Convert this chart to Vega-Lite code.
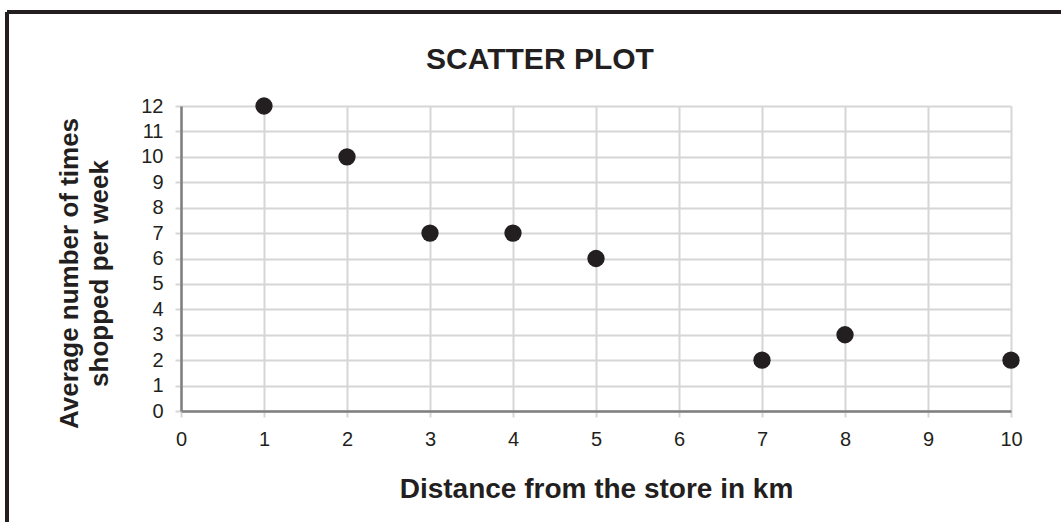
{
  "$schema": "https://vega.github.io/schema/vega-lite/v6.json",
  "autosize": {"type": "none"},
  "padding": {"left": 181, "top": 106, "right": 50, "bottom": 111},
  "width": 830,
  "height": 305,
  "background": "white",
  "title": {
    "text": "SCATTER PLOT",
    "font": "Liberation Sans",
    "fontSize": 30,
    "fontWeight": "bold",
    "color": "#231f20",
    "anchor": "middle",
    "dx": -56,
    "offset": -65
  },
  "config": {
    "view": {"stroke": null},
    "axis": {
      "labelFont": "Liberation Sans",
      "labelFontSize": 20,
      "labelColor": "#231f20",
      "labelOverlap": false,
      "labelFlush": false,
      "titleFont": "Liberation Sans",
      "titleFontSize": 26,
      "titleFontWeight": "bold",
      "titleColor": "#231f20",
      "gridColor": "#d6d6d6",
      "gridWidth": 2,
      "gridOpacity": 1,
      "domainColor": "#7f7f7f",
      "domainWidth": 2.5,
      "tickColor": "#d6d6d6",
      "tickWidth": 2,
      "tickSize": 6
    }
  },
  "data": {
    "values": [
      {"distance": 1, "times": 12},
      {"distance": 2, "times": 10},
      {"distance": 3, "times": 7},
      {"distance": 4, "times": 7},
      {"distance": 5, "times": 6},
      {"distance": 7, "times": 2},
      {"distance": 8, "times": 3},
      {"distance": 10, "times": 2}
    ]
  },
  "layer": [
    {
      "mark": {"type": "point", "filled": true, "size": 300, "color": "#231f20", "opacity": 1},
      "encoding": {
        "x": {
          "field": "distance",
          "type": "quantitative",
          "scale": {"domain": [0, 10], "nice": false, "zero": false},
          "axis": {
            "values": [0, 1, 2, 3, 4, 5, 6, 7, 8, 9, 10],
            "format": "d",
            "title": "Distance from the store in km",
            "titleFontSize": 28,
            "labelPadding": 12,
            "titleY": 78,
            "titleBaseline": "middle",
            "titleAlign": "center"
          }
        },
        "y": {
          "field": "times",
          "type": "quantitative",
          "scale": {"domain": [0, 12], "nice": false, "zero": false},
          "axis": {
            "values": [0, 1, 2, 3, 4, 5, 6, 7, 8, 9, 10, 11, 12],
            "format": "d",
            "title": ["Average number of times", "shopped per week"],
            "labelPadding": 12,
            "titleX": -112,
            "titleY": 167,
            "titleAngle": 270,
            "titleAlign": "center",
            "titleBaseline": "middle",
            "titleLineHeight": 30
          }
        }
      }
    },
    {
      "mark": {"type": "rule", "color": "#231f20", "strokeWidth": 3, "clip": false},
      "encoding": {
        "x": {
          "datum": -2.096,
          "type": "quantitative",
          "axis": {
            "values": [0, 1, 2, 3, 4, 5, 6, 7, 8, 9, 10],
            "format": "d",
            "title": "Distance from the store in km",
            "titleFontSize": 28,
            "labelPadding": 12,
            "titleY": 78,
            "titleBaseline": "middle",
            "titleAlign": "center"
          }
        },
        "x2": {"datum": 10.61},
        "y": {
          "datum": 15.7,
          "type": "quantitative",
          "axis": {
            "values": [0, 1, 2, 3, 4, 5, 6, 7, 8, 9, 10, 11, 12],
            "format": "d",
            "title": ["Average number of times", "shopped per week"],
            "labelPadding": 12,
            "titleX": -112,
            "titleY": 167,
            "titleAngle": 270,
            "titleAlign": "center",
            "titleBaseline": "middle",
            "titleLineHeight": 30
          }
        }
      }
    },
    {
      "mark": {"type": "rule", "color": "#231f20", "strokeWidth": 3, "clip": false},
      "encoding": {
        "x": {
          "datum": -2.096,
          "type": "quantitative",
          "axis": {
            "values": [0, 1, 2, 3, 4, 5, 6, 7, 8, 9, 10],
            "format": "d",
            "title": "Distance from the store in km",
            "titleFontSize": 28,
            "labelPadding": 12,
            "titleY": 78,
            "titleBaseline": "middle",
            "titleAlign": "center"
          }
        },
        "y": {
          "datum": 15.7,
          "type": "quantitative",
          "axis": {
            "values": [0, 1, 2, 3, 4, 5, 6, 7, 8, 9, 10, 11, 12],
            "format": "d",
            "title": ["Average number of times", "shopped per week"],
            "labelPadding": 12,
            "titleX": -112,
            "titleY": 167,
            "titleAngle": 270,
            "titleAlign": "center",
            "titleBaseline": "middle",
            "titleLineHeight": 30
          }
        },
        "y2": {"datum": -4.4}
      }
    }
  ]
}
